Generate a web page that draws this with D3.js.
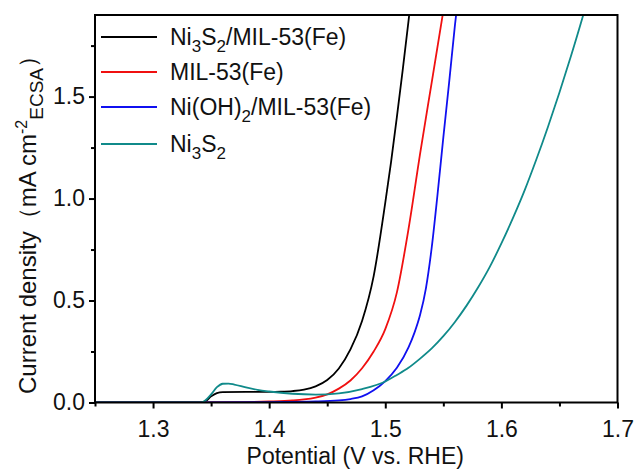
<!DOCTYPE html>
<html>
<head>
<meta charset="utf-8">
<script src="https://cdn.jsdelivr.net/npm/d3@7"></script>
<style>
  body { margin: 0; background: #fff; }
  text { font-family: "Liberation Sans", Arial, sans-serif; }
</style>
</head>
<body>
<svg width="635" height="469"></svg>
<script>
(function () {

  // series names + colours (legend order)
  var names = ['Ni3S2/MIL-53(Fe)', 'MIL-53(Fe)', 'Ni(OH)2/MIL-53(Fe)', 'Ni3S2']
  var colors = ['#000000', '#f01010', '#1010f0', '#108a8a']

  // potentials (V vs. RHE) and current densities
  var blackX = [1.25, 1.34, 1.345, 1.35, 1.355, 1.36, 1.38, 1.40, 1.41, 1.42, 1.43, 1.44, 1.45, 1.46, 1.47, 1.48, 1.49, 1.50, 1.505, 1.51, 1.515, 1.52, 1.522]
  var blackY = [0, 0, 0.006, 0.03, 0.046, 0.051, 0.052, 0.052, 0.053, 0.056, 0.063, 0.079, 0.11, 0.167, 0.26, 0.4, 0.62, 0.98, 1.18, 1.4, 1.63, 1.87, 1.97]

  var redX = [1.25, 1.34, 1.38, 1.40, 1.42, 1.43, 1.44, 1.45, 1.46, 1.47, 1.48, 1.49, 1.50, 1.51, 1.52, 1.53, 1.54, 1.55, 1.552]
  var redY = [0, 0, 0.002, 0.005, 0.01, 0.015, 0.024, 0.04, 0.068, 0.108, 0.168, 0.25, 0.36, 0.54, 0.85, 1.22, 1.57, 1.92, 1.99]

  var blueX = [1.25, 1.34, 1.40, 1.44, 1.46, 1.47, 1.48, 1.49, 1.50, 1.51, 1.52, 1.525, 1.53, 1.535, 1.54, 1.545, 1.55, 1.555, 1.56, 1.563]
  var blueY = [0, 0, 0.002, 0.005, 0.01, 0.017, 0.03, 0.06, 0.105, 0.17, 0.27, 0.34, 0.43, 0.56, 0.76, 1.02, 1.3, 1.57, 1.85, 2.0]

  var tealX = [1.25, 1.34, 1.343, 1.35, 1.355, 1.36, 1.365, 1.37, 1.38, 1.39, 1.40, 1.42, 1.44, 1.46, 1.48, 1.50, 1.51, 1.52, 1.53, 1.54, 1.55, 1.56, 1.57, 1.58, 1.59, 1.60, 1.61, 1.62, 1.63, 1.64, 1.65, 1.66, 1.67, 1.675]
  var tealY = [0, 0, 0.003, 0.04, 0.075, 0.092, 0.093, 0.088, 0.074, 0.062, 0.054, 0.043, 0.039, 0.045, 0.066, 0.103, 0.135, 0.17, 0.215, 0.265, 0.325, 0.395, 0.475, 0.565, 0.665, 0.78, 0.905, 1.04, 1.19, 1.35, 1.52, 1.7, 1.89, 1.99]

  var xTicks = [1.3, 1.4, 1.5, 1.6, 1.7]
  var xMinor = [1.25, 1.35, 1.45, 1.55, 1.65]
  var yTicks = [0, 0.5, 1.0, 1.5]
  var yMinor = [0.25, 0.75, 1.25, 1.75]

  var seriesX = [blackX, redX, blueX, tealX]
  var seriesY = [blackY, redY, blueY, tealY]

  var margin = { left: 95, top: 15, right: 17.5, bottom: 66.5 }
  var width = 635 - margin.left - margin.right
  var height = 469 - margin.top - margin.bottom

  var svg = d3.select('svg')
  var g = svg.append('g').attr('transform', 'translate(' + margin.left + ',' + margin.top + ')')

  var xScale = d3.scaleLinear().domain([1.25, 1.7]).range([0, width])
  var yScale = d3.scaleLinear().domain([0, 1.9]).range([height, 0])

  g.append('clipPath').attr('id', 'clip')
    .append('rect').attr('width', width).attr('height', height)

  var line = d3.line()
    .x(function (d) { return xScale(d[0]) })
    .y(function (d) { return yScale(d[1]) })
    .curve(d3.curveMonotoneX)

  seriesX.forEach(function (xs, i) {
    var pts = xs.map(function (x, j) { return [x, seriesY[i][j]] })
    g.append('path')
      .datum(pts)
      .attr('clip-path', 'url(#clip)')
      .attr('fill', 'none')
      .attr('stroke', colors[i])
      .attr('stroke-width', 1.8)
      .attr('d', line)
  })

  // axes
  var fmt = d3.format('.1f')
  var xAxis = g.append('g').attr('transform', 'translate(0,' + height + ')')
    .call(d3.axisBottom(xScale).tickValues(xTicks).tickFormat(fmt).tickSize(6).tickPadding(12))
  var xAxisMinor = g.append('g').attr('transform', 'translate(0,' + height + ')')
    .call(d3.axisBottom(xScale).tickValues(xMinor).tickFormat('').tickSize(4))
  var yAxis = g.append('g')
    .call(d3.axisLeft(yScale).tickValues(yTicks).tickFormat(fmt).tickSize(6).tickPadding(4))
  var yAxisMinor = g.append('g')
    .call(d3.axisLeft(yScale).tickValues(yMinor).tickFormat('').tickSize(4))

  ;[xAxis, xAxisMinor, yAxis, yAxisMinor].forEach(function (a) {
    a.select('.domain').remove()
    a.selectAll('line').attr('stroke', '#000').attr('stroke-width', 2)
    a.selectAll('text').attr('fill', '#111').style('font-size', '23px')
  })

  // frame
  g.append('rect')
    .attr('width', width).attr('height', height)
    .attr('fill', 'none').attr('stroke', '#000').attr('stroke-width', 2)

  // axis titles
  svg.append('text')
    .attr('x', margin.left + width / 2 - 1)
    .attr('y', 464)
    .attr('text-anchor', 'middle')
    .style('font-size', '23px')
    .attr('fill', '#111')
    .text('Potential (V vs. RHE)')

  var yt = svg.append('text')
    .attr('transform', 'translate(36,' + 219 + ') rotate(-90)')
    .attr('text-anchor', 'middle')
    .style('font-size', '24px')
    .attr('fill', '#111')
  yt.append('tspan').text('Current density\uff08mA cm')
  yt.append('tspan').attr('dy', -9).style('font-size', '16px').text('-2')
  yt.append('tspan').attr('dy', 16).style('font-size', '19px').text('ECSA')
  yt.append('tspan').attr('dy', -7).text('\uff09')

  // legend
  var legY = [37, 72, 107, 144]
  var legend = g.selectAll('.leg').data(names).enter().append('g')
    .attr('transform', function (d, i) { return 'translate(6,' + (legY[i] - margin.top) + ')' })
  legend.append('line')
    .attr('x1', 0).attr('x2', 56)
    .attr('stroke', function (d, i) { return colors[i] })
    .attr('stroke-width', 2)
  legend.append('text')
    .attr('x', 69).attr('y', 8)
    .style('font-size', '23px')
    .attr('fill', '#111')
    .each(function (d) {
      var t = d3.select(this)
      // digits in the formulas are subscripts
      var tokens
      if (d === 'Ni3S2/MIL-53(Fe)') tokens = [['Ni', 0], ['3', 1], ['S', 0], ['2', 1], ['/MIL-53(Fe)', 0]]
      else if (d === 'MIL-53(Fe)') tokens = [['MIL-53(Fe)', 0]]
      else if (d === 'Ni(OH)2/MIL-53(Fe)') tokens = [['Ni(OH)', 0], ['2', 1], ['/MIL-53(Fe)', 0]]
      else tokens = [['Ni', 0], ['3', 1], ['S', 0], ['2', 1]]
      var prev = 0
      tokens.forEach(function (tk) {
        var dy = tk[1] ? 7 : 0
        t.append('tspan')
          .attr('dy', dy - prev)
          .style('font-size', tk[1] ? '17px' : '23px')
          .text(tk[0])
        prev = dy
      })
    })

})()
</script>
</body>
</html>
